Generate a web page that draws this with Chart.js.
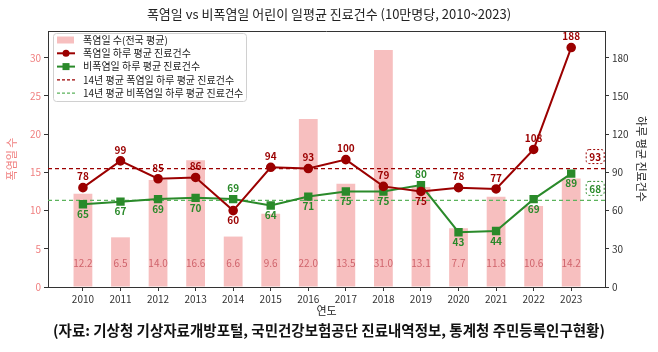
<!DOCTYPE html>
<html>
<head>
<meta charset="utf-8">
<script src="https://cdn.jsdelivr.net/npm/chart.js@4.4.1/dist/chart.umd.min.js"></script>
<style>
  html, body { margin: 0; padding: 0; background: #fff; }
</style>
</head>
<body>
<canvas id="heatChart" width="658" height="352"></canvas>
<script>
const years = [2010, 2011, 2012, 2013, 2014, 2015, 2016, 2017, 2018, 2019, 2020, 2021, 2022, 2023];
const heatDays = [12.2, 6.5, 14.0, 16.6, 6.6, 9.6, 22.0, 13.5, 31.0, 13.1, 7.7, 11.8, 10.6, 14.2];
const heatVisits = [78, 99, 85, 86, 60, 94, 93, 100, 79, 75, 78, 77, 108, 188];
const nonHeatVisits = [65, 67, 69, 70, 69, 64, 71, 75, 75, 80, 43, 44, 69, 89];
const heatAvg = 93;
const nonHeatAvg = 68;
const legendLabels = [
  "폭염일 수(전국 평균)",
  "폭염일 하루 평균 진료건수",
  "비폭염일 하루 평균 진료건수",
  "14년 평균 폭염일 하루 평균 진료건수",
  "14년 평균 비폭염일 하루 평균 진료건수"
];

const FONT = "'Noto Sans CJK KR', 'Noto Sans', sans-serif";
const RED = "#9b0000";
const GREEN = "#2a8a2a";
const BAR = "rgba(240, 128, 128, 0.5)";

Chart.defaults.font.family = FONT;

// dashed average lines, drawn on top of the bars but under the lines
const avgLines = {
  id: "avgLines",
  afterDatasetDraw(chart, args) {
    if (args.index !== 0) return;
    const ctx = chart.ctx;
    const area = chart.chartArea;
    const y1 = chart.scales.y1;
    ctx.save();
    ctx.lineWidth = 1.2;
    ctx.setLineDash([4, 3]);
    [[heatAvg, RED], [nonHeatAvg, "#5cb35c"]].forEach(([v, c]) => {
      const py = y1.getPixelForValue(v);
      ctx.strokeStyle = c;
      ctx.beginPath();
      ctx.moveTo(area.left, py);
      ctx.lineTo(area.right, py);
      ctx.stroke();
    });
    ctx.restore();
  }
};

const valueLabels = {
  id: "valueLabels",
  afterDatasetsDraw(chart) {
    const ctx = chart.ctx;
    const area = chart.chartArea;
    const { x, y1 } = chart.scales;
    ctx.save();
    ctx.textAlign = "center";
    ctx.textBaseline = "middle";

    ctx.font = "10px " + FONT;
    ctx.fillStyle = "#d0646c";
    heatDays.forEach((v, i) => {
      ctx.fillText(v.toFixed(1), x.getPixelForValue(i), area.bottom - 24);
    });

    ctx.font = "bold 10px " + FONT;
    years.forEach((yr, i) => {
      const a = heatVisits[i];
      const b = nonHeatVisits[i];
      const px = x.getPixelForValue(i);
      const redUp = a >= b;
      ctx.fillStyle = RED;
      ctx.fillText(String(a), px, y1.getPixelForValue(a) + (redUp ? -11 : 10));
      ctx.fillStyle = GREEN;
      ctx.fillText(String(b), px, y1.getPixelForValue(b) + (redUp ? 10 : -11));
    });

    // boxed average values at the right
    const bx = x.getPixelForValue(years.length - 1) + 24;
    [[heatAvg, RED], [nonHeatAvg, GREEN]].forEach(([v, c]) => {
      const by = y1.getPixelForValue(v) - 12;
      ctx.fillStyle = "#fff";
      ctx.strokeStyle = c;
      ctx.lineWidth = 1;
      ctx.setLineDash([2, 2]);
      ctx.beginPath();
      ctx.roundRect(bx - 9, by - 7, 18, 14, 3);
      ctx.fill();
      ctx.stroke();
      ctx.setLineDash([]);
      ctx.fillStyle = c;
      ctx.fillText(String(v), bx, by + 0.5);
    });
    ctx.restore();
  }
};

const frameAndLegend = {
  id: "frameAndLegend",
  afterDraw(chart) {
    const ctx = chart.ctx;
    const area = chart.chartArea;
    ctx.save();
    // top spine
    ctx.strokeStyle = "#333";
    ctx.lineWidth = 1;
    ctx.beginPath();
    ctx.moveTo(area.left, area.top + 0.5);
    ctx.lineTo(area.right, area.top + 0.5);
    ctx.stroke();

    // legend box
    const lx = area.left + 5;
    const ly = area.top + 2;
    ctx.fillStyle = "rgba(255,255,255,0.85)";
    ctx.strokeStyle = "#d0d0d0";
    ctx.beginPath();
    ctx.roundRect(lx + 0.5, ly + 0.5, 193, 68, 3);
    ctx.fill();
    ctx.stroke();

    ctx.font = "10px " + FONT;
    ctx.textBaseline = "middle";
    ctx.textAlign = "left";
    legendLabels.forEach((txt, i) => {
      const cy = ly + 7 + i * 13.3;
      const hx = lx + 4;
      if (i === 0) {
        ctx.fillStyle = BAR;
        ctx.fillRect(hx, cy - 3.5, 17, 7);
      } else {
        const c = (i === 1 || i === 3) ? RED : (i === 2 ? GREEN : "#5cb35c");
        ctx.strokeStyle = c;
        ctx.lineWidth = i < 3 ? 2 : 1.2;
        ctx.setLineDash(i < 3 ? [] : [3, 2]);
        ctx.beginPath();
        ctx.moveTo(hx, cy);
        ctx.lineTo(hx + 18, cy);
        ctx.stroke();
        ctx.setLineDash([]);
        ctx.fillStyle = c;
        if (i === 1) {
          ctx.beginPath();
          ctx.arc(hx + 9, cy, 3.5, 0, Math.PI * 2);
          ctx.fill();
        } else if (i === 2) {
          ctx.fillRect(hx + 5.5, cy - 3.5, 7, 7);
        }
      }
      ctx.fillStyle = "#222";
      ctx.fillText(txt, lx + 30, cy);
    });
    ctx.restore();
  }
};

const ctx = document.getElementById("heatChart").getContext("2d");

new Chart(ctx, {
  data: {
    datasets: [
      {
        type: "bar",
        label: legendLabels[0],
        data: heatDays.map((v, i) => ({ x: i, y: v })),
        backgroundColor: BAR,
        borderWidth: 0,
        barPercentage: 0.5,
        categoryPercentage: 1.0,
        yAxisID: "y",
        order: 3
      },
      {
        type: "line",
        label: legendLabels[1],
        data: heatVisits.map((v, i) => ({ x: i, y: v })),
        borderColor: RED,
        backgroundColor: RED,
        borderWidth: 2,
        pointRadius: 3.8,
        pointStyle: "circle",
        tension: 0,
        yAxisID: "y1",
        order: 1
      },
      {
        type: "line",
        label: legendLabels[2],
        data: nonHeatVisits.map((v, i) => ({ x: i, y: v })),
        borderColor: GREEN,
        backgroundColor: GREEN,
        borderWidth: 2,
        pointRadius: 4.5,
        pointStyle: "rect",
        tension: 0,
        yAxisID: "y1",
        order: 2
      }
    ]
  },
  options: {
    responsive: false,
    animation: false,
    layout: { padding: 0 },
    plugins: {
      legend: { display: false },
      tooltip: { enabled: false },
      title: {
        display: true,
        text: "폭염일 vs 비폭염일 어린이 일평균 진료건수 (10만명당, 2010~2023)",
        color: "#222",
        font: { size: 13, weight: "normal" },
        padding: { top: 6, bottom: 9.4 }
      },
      subtitle: {
        display: true,
        position: "bottom",
        text: "(자료: 기상청 기상자료개방포털, 국민건강보험공단 진료내역정보, 통계청 주민등록인구현황)",
        color: "#111",
        font: { size: 14.5, weight: "bold" },
        padding: { top: 2, bottom: 12.6 }
      }
    },
    scales: {
      x: {
        type: "linear",
        position: "bottom",
        offset: false,
        min: -0.93,
        max: 13.9,
        afterFit: (s) => { s.height = 33; },
        grid: { drawOnChartArea: false, offset: false, tickLength: 4, color: "#333" },
        border: { color: "#333" },
        ticks: {
          stepSize: 1,
          includeBounds: false,
          autoSkip: false,
          maxRotation: 0,
          color: "#333",
          padding: 2,
          font: { size: 10 },
          callback: (v) => years[v] !== undefined ? String(years[v]) : ""
        },
        title: {
          display: true,
          text: "연도",
          color: "#222",
          font: { size: 11 },
          padding: { top: 0, bottom: 3 }
        }
      },
      y: {
        position: "left",
        min: 0,
        max: 33.5,
        afterFit: (s) => { s.width = 48; },
        grid: { drawOnChartArea: false, tickLength: 4, color: "#333" },
        border: { color: "#333" },
        ticks: {
          stepSize: 5,
          includeBounds: false,
          color: "#f08080",
          padding: 3,
          font: { size: 10 }
        },
        title: {
          display: true,
          text: "폭염일 수",
          color: "#f08080",
          font: { size: 11 },
          padding: { top: 5.5, bottom: 2 }
        }
      },
      y1: {
        position: "right",
        min: 0,
        max: 201,
        afterFit: (s) => { s.width = 53; },
        grid: { drawOnChartArea: false, tickLength: 4, color: "#333" },
        border: { color: "#333" },
        ticks: {
          stepSize: 30,
          includeBounds: false,
          color: "#333",
          padding: 3,
          font: { size: 10 }
        },
        title: {
          display: true,
          text: "하루 평균 진료건수",
          color: "#222",
          font: { size: 11 },
          padding: { top: 10.5, bottom: 4 }
        }
      }
    }
  },
  plugins: [avgLines, valueLabels, frameAndLegend]
});
</script>
</body>
</html>
